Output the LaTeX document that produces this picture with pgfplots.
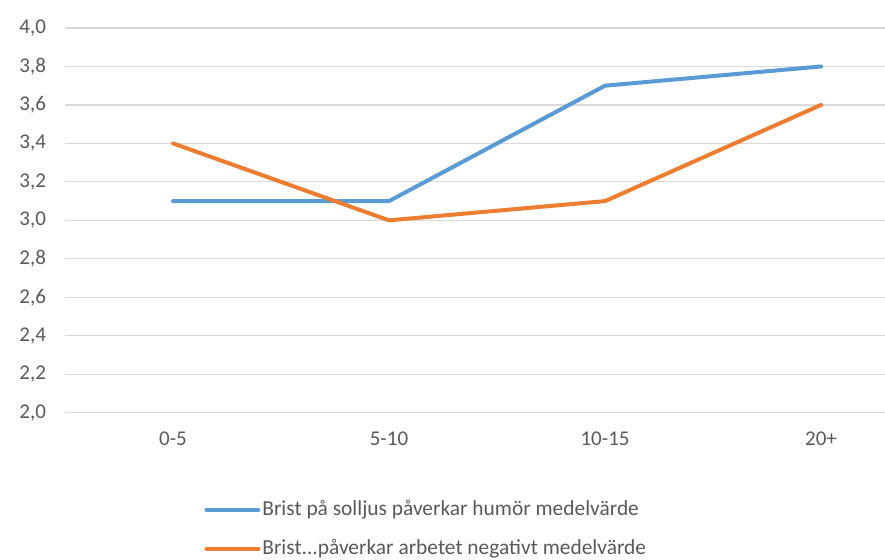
\documentclass[border=0pt]{standalone}
\usepackage{pgfplots}
\pgfplotsset{compat=1.18}
\usepackage{fontspec}
\setmainfont{Carlito}
\definecolor{sblue}{HTML}{5B9BD5}
\definecolor{sorange}{HTML}{ED7D31}
\definecolor{gridc}{HTML}{D9D9D9}
\definecolor{txt}{HTML}{595959}
\begin{document}
\begin{tikzpicture}
\useasboundingbox (0,0) rectangle (442.5pt,280pt);
\begin{axis}[
  at={(32.5pt,73.65pt)}, anchor=south west,
  scale only axis, width=410pt, height=192.35pt,
  xmin=-0.5, xmax=3.296, ymin=2, ymax=4,
  xtick={0,1,2,3}, xticklabels={0-5,5-10,10-15,20+},
  ytick={2,2.2,...,4.01},
  ymajorgrids, grid style={gridc, line width=0.6pt},
  axis line style={draw=none},
  major tick length=0pt,
  tick label style={font=\fontsize{10.5}{12}\selectfont, text=txt},
  yticklabel style={/pgf/number format/use comma, /pgf/number format/fixed, /pgf/number format/fixed zerofill, /pgf/number format/precision=1, /pgf/number format/assume math mode=true},
  xticklabel style={yshift=-6pt},
  yticklabel style={xshift=-6pt},
  clip=false,
  legend cell align=left,
  legend style={at={(0.1695,-0.222)}, anchor=north west, draw=none, fill=none,
    inner sep=0pt, row sep=8.5pt, font=\fontsize{10.7}{12}\selectfont, text=txt,
    nodes={inner sep=1pt}},
  legend image code/.code={\draw[#1, line width=2pt, line cap=round] (0pt,0pt) -- (26pt,0pt);},
]
\addplot[sblue, line width=2pt, line cap=round, line join=round] coordinates {(0,3.1) (1,3.1) (2,3.7) (3,3.8)};
\addlegendentry{Brist på solljus påverkar humör medelvärde}
\addplot[sorange, line width=2pt, line cap=round, line join=round] coordinates {(0,3.4) (1,3.0) (2,3.1) (3,3.6)};
\addlegendentry{Brist...påverkar arbetet negativt medelvärde}
\end{axis}
\end{tikzpicture}
\end{document}
